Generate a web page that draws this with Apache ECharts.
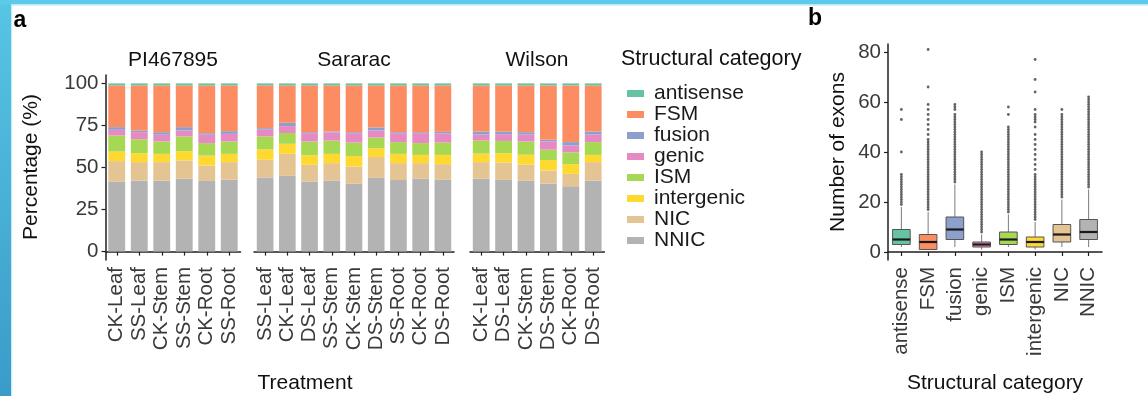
<!DOCTYPE html>
<html>
<head>
<meta charset="utf-8">
<script src="https://cdn.jsdelivr.net/npm/echarts@6/dist/echarts.min.js"></script>
<style>
  html, body { margin: 0; padding: 0; background: #ffffff; }
  #chart { width: 1148px; height: 396px; }
</style>
</head>
<body>
<div id="chart"></div>
<script>
// ---- Structural categories (Set2 palette) ----
const categories = ['antisense', 'FSM', 'fusion', 'genic', 'ISM', 'intergenic', 'NIC', 'NNIC'];
const categoryColors = ['#66C2A5', '#FC8D62', '#8DA0CB', '#E78AC3', '#A6D854', '#FFD92F', '#E5C494', '#B3B3B3'];

// ---- Panel a: isoform composition (%) per genotype and treatment ----
const piTreatments = ['CK-Leaf', 'SS-Leaf', 'CK-Stem', 'SS-Stem', 'CK-Root', 'SS-Root'];
const piAntisense  = [1.2, 1.2, 1.2, 1.2, 1.2, 1.2];
const piFSM        = [24.8, 26.8, 27.8, 24.8, 28.4, 27.2];
const piFusion     = [1.6, 1.0, 1.5, 2.0, 0.9, 1.6];
const piGenic      = [3.4, 4.2, 4.0, 3.5, 5.0, 4.5];
const piISM        = [9.5, 8.3, 7.4, 8.8, 7.4, 7.4];
const piIntergenic = [5.7, 5.3, 4.9, 5.5, 5.9, 4.9];
const piNIC        = [12.3, 10.9, 10.9, 10.9, 9.2, 10.5];
const piNNIC       = [41.5, 42.3, 42.3, 43.3, 42.0, 42.7];

const sararacTreatments = ['SS-Leaf', 'CK-Leaf', 'DS-Leaf', 'SS-Stem', 'CK-Stem', 'DS-Stem', 'SS-Root', 'CK-Root', 'DS-Root'];
const sararacAntisense  = [1.2, 1.2, 1.2, 1.2, 1.2, 1.2, 1.2, 1.2, 1.2];
const sararacFSM        = [25.4, 22.2, 27.8, 27.4, 27.8, 25.0, 27.8, 27.8, 27.6];
const sararacFusion     = [0.9, 2.0, 0.6, 0.6, 0.6, 1.8, 0.6, 0.6, 1.0];
const sararacGenic      = [4.0, 4.1, 5.0, 4.8, 5.6, 4.2, 5.3, 5.9, 5.4];
const sararacISM        = [7.7, 6.4, 8.1, 7.9, 8.0, 6.4, 7.0, 7.0, 7.3];
const sararacIntergenic = [6.2, 6.0, 5.7, 5.5, 6.2, 5.2, 5.5, 4.9, 5.5];
const sararacNIC        = [10.6, 13.1, 9.9, 10.5, 10.3, 12.4, 10.1, 9.3, 9.2];
const sararacNNIC       = [44.0, 45.0, 41.7, 42.1, 40.3, 43.8, 42.5, 43.3, 42.8];

const wilsonTreatments = ['CK-Leaf', 'DS-Leaf', 'CK-Stem', 'DS-Stem', 'CK-Root', 'DS-Root'];
const wilsonAntisense  = [1.2, 1.2, 1.2, 1.2, 1.2, 1.2];
const wilsonFSM        = [27.4, 27.5, 27.8, 32.3, 33.7, 27.4];
const wilsonFusion     = [1.8, 1.5, 1.4, 1.0, 2.0, 1.8];
const wilsonGenic      = [3.6, 4.0, 4.2, 4.9, 4.1, 4.5];
const wilsonISM        = [7.7, 7.3, 7.8, 6.2, 7.0, 7.6];
const wilsonIntergenic = [5.1, 5.5, 5.8, 6.2, 5.8, 4.3];
const wilsonNIC        = [9.9, 10.4, 9.7, 7.7, 7.4, 10.9];
const wilsonNNIC       = [43.3, 42.6, 42.1, 40.5, 38.8, 42.3];

const pctTicks = [0, 25, 50, 75, 100];

// ---- Panel b: number of exons per structural category (box statistics) ----
const exonLowerWhisker = [2, 1, 2, 1, 2, 1, 2, 2];
const exonQ1           = [3, 1, 5, 2, 3, 2, 4, 5];
const exonMedian       = [5, 4, 9, 3, 5, 4, 7, 8];
const exonQ3           = [9, 7, 14, 4, 8, 6, 11, 13];
const exonUpperWhisker = [18, 16, 27, 7, 15, 12, 21, 25];
const exonTicks = [0, 20, 40, 60, 80];

// Outlying transcripts (exon counts beyond the whiskers)
const outAntisense  = [19, 20, 21, 22, 23, 24, 25, 26, 27, 28, 29, 30, 31, 40, 53, 57];
const outFSM        = [17, 18, 19, 20, 21, 22, 23, 24, 25, 26, 27, 28, 29, 30, 31, 32, 33, 34, 35, 36, 37, 38, 39, 40, 41, 42, 43, 44, 45, 47, 49, 51, 53, 55, 57, 59, 66, 81];
const outFusion     = [28, 29, 30, 31, 32, 33, 34, 35, 36, 37, 38, 39, 40, 41, 42, 43, 44, 45, 46, 47, 48, 49, 50, 51, 52, 53, 54, 55, 57, 58, 59];
const outGenic      = [8, 9, 10, 11, 12, 13, 14, 15, 16, 17, 18, 19, 20, 21, 22, 23, 24, 25, 26, 27, 28, 29, 30, 31, 32, 33, 34, 35, 36, 37, 38, 39, 40];
const outISM        = [16, 17, 18, 19, 20, 21, 22, 23, 24, 25, 26, 27, 28, 29, 30, 31, 32, 33, 34, 35, 36, 37, 38, 39, 40, 41, 42, 43, 44, 45, 46, 47, 48, 49, 50, 55, 58];
const outIntergenic = [13, 14, 15, 16, 17, 18, 19, 20, 21, 22, 23, 24, 25, 26, 27, 28, 29, 30, 31, 33, 35, 37, 39, 41, 43, 45, 47, 50, 52, 53, 54, 55, 57, 64, 69, 77];
const outNIC        = [22, 23, 24, 25, 26, 27, 28, 29, 30, 31, 32, 33, 34, 35, 36, 37, 38, 39, 40, 41, 42, 43, 44, 45, 46, 47, 48, 49, 50, 51, 52, 53, 54, 55, 57];
const outNNIC       = [26, 27, 28, 29, 30, 31, 32, 33, 34, 35, 36, 37, 38, 39, 40, 41, 42, 43, 44, 45, 46, 47, 48, 49, 50, 51, 52, 53, 54, 55, 56, 57, 58, 59, 60, 61, 62];

// ---- Assemble ----
const FONT = '"Liberation Sans", Arial, Helvetica, sans-serif';
const AXIS_COLOR = '#1f1f1f';
const TICK_TEXT = '#3a3a3a';

// per-facet stacks, bottom segment first (NNIC) so FSM / antisense end up on top
const facets = [
  { stack: 'pi', values: { antisense: piAntisense, FSM: piFSM, fusion: piFusion, genic: piGenic, ISM: piISM, intergenic: piIntergenic, NIC: piNIC, NNIC: piNNIC } },
  { stack: 'sararac', values: { antisense: sararacAntisense, FSM: sararacFSM, fusion: sararacFusion, genic: sararacGenic, ISM: sararacISM, intergenic: sararacIntergenic, NIC: sararacNIC, NNIC: sararacNNIC } },
  { stack: 'wilson', values: { antisense: wilsonAntisense, FSM: wilsonFSM, fusion: wilsonFusion, genic: wilsonGenic, ISM: wilsonISM, intergenic: wilsonIntergenic, NIC: wilsonNIC, NNIC: wilsonNNIC } }
];
const treatmentLists = [piTreatments, sararacTreatments, wilsonTreatments];

const series = [];
facets.forEach((f, fi) => {
  for (let c = categories.length - 1; c >= 0; c--) {
    const name = categories[c];
    series.push({
      type: 'bar',
      name: name,
      stack: f.stack,
      xAxisIndex: fi,
      yAxisIndex: fi,
      barWidth: '75%',
      itemStyle: { color: categoryColors[c] },
      emphasis: { disabled: true },
      data: f.values[name]
    });
  }
});

// boxes: [index, lower whisker, Q1, median, Q3, upper whisker]
const boxData = categories.map((c, i) => [i, exonLowerWhisker[i], exonQ1[i], exonMedian[i], exonQ3[i], exonUpperWhisker[i]]);

series.push({
  type: 'custom',
  name: 'exonBox',
  xAxisIndex: 3,
  yAxisIndex: 3,
  encode: { x: 0, y: [1, 2, 3, 4, 5] },
  data: boxData,
  renderItem: function (params, api) {
    const i = api.value(0);
    const lo = api.coord([i, api.value(1)]);
    const q1 = api.coord([i, api.value(2)]);
    const md = api.coord([i, api.value(3)]);
    const q3 = api.coord([i, api.value(4)]);
    const hi = api.coord([i, api.value(5)]);
    const half = api.size([1, 0])[0] * 0.33;
    const cx = q1[0];
    const whisker = { stroke: '#7a7a7a', lineWidth: 1 };
    return {
      type: 'group',
      children: [
        { type: 'line', shape: { x1: cx, y1: q3[1], x2: cx, y2: hi[1] }, style: whisker },
        { type: 'line', shape: { x1: cx, y1: q1[1], x2: cx, y2: lo[1] }, style: whisker },
        { type: 'rect', shape: { x: cx - half, y: q3[1], width: half * 2, height: q1[1] - q3[1] },
          style: { fill: categoryColors[params.dataIndex], stroke: '#555555', lineWidth: 1 } },
        { type: 'line', shape: { x1: cx - half, y1: md[1], x2: cx + half, y2: md[1] },
          style: { stroke: '#1a1a1a', lineWidth: 2.2 } }
      ]
    };
  },
  z: 3
});

const outlierLists = [outAntisense, outFSM, outFusion, outGenic, outISM, outIntergenic, outNIC, outNNIC];
const outlierPoints = [];
outlierLists.forEach((arr, i) => arr.forEach(v => outlierPoints.push([i, v])));
series.push({
  type: 'scatter',
  name: 'exonOutliers',
  xAxisIndex: 3,
  yAxisIndex: 3,
  symbol: 'circle',
  symbolSize: 2.8,
  itemStyle: { color: '#3d3d3d' },
  emphasis: { disabled: true },
  data: outlierPoints,
  z: 4
});

// ---- Axes ----
const catAxis = (gridIndex, data) => ({
  type: 'category',
  gridIndex: gridIndex,
  data: data,
  axisLine: { show: true, lineStyle: { color: AXIS_COLOR, width: 1.5 } },
  axisTick: { show: true, alignWithLabel: true, length: 4, lineStyle: { color: AXIS_COLOR, width: 1.2 } },
  axisLabel: { interval: 0, rotate: 90, margin: 7, fontSize: 20.5, fontFamily: FONT, color: TICK_TEXT },
  splitLine: { show: false }
});

const xAxes = [
  catAxis(0, piTreatments),
  catAxis(1, sararacTreatments),
  catAxis(2, wilsonTreatments),
  catAxis(3, categories)
];

const pctAxis = (gridIndex, visible) => ({
  type: 'value',
  gridIndex: gridIndex,
  min: -5,
  max: 105,
  show: visible,
  axisLine: { show: true, lineStyle: { color: AXIS_COLOR, width: 1.5 } },
  axisTick: { show: true, length: 4, customValues: pctTicks, lineStyle: { color: AXIS_COLOR, width: 1.2 } },
  axisLabel: { customValues: pctTicks, margin: 7, fontSize: 20.5, fontFamily: FONT, color: TICK_TEXT },
  splitLine: { show: false }
});

const yAxes = [
  pctAxis(0, true),
  pctAxis(1, false),
  pctAxis(2, false),
  {
    type: 'value',
    gridIndex: 3,
    min: -3.2,
    max: 83.2,
    axisLine: { show: true, lineStyle: { color: AXIS_COLOR, width: 1.5 } },
    axisTick: { show: true, length: 4, customValues: exonTicks, lineStyle: { color: AXIS_COLOR, width: 1.2 } },
    axisLabel: { customValues: exonTicks, margin: 7, fontSize: 20.5, fontFamily: FONT, color: TICK_TEXT },
    splitLine: { show: false }
  }
];

// ---- Free text and frame ----
const txt = (text, x, y, opts) => Object.assign({
  type: 'text',
  x: x,
  y: y,
  silent: true,
  style: Object.assign({
    text: text,
    x: 0,
    y: 0,
    font: '21px ' + FONT,
    fill: '#111111',
    align: 'center',
    verticalAlign: 'middle'
  }, (opts && opts.style) || {})
}, opts && opts.rotation ? { rotation: opts.rotation } : {});

const graphics = [
  { type: 'rect', silent: true, shape: { x: 0, y: 0, width: 11, height: 396 },
    style: { fill: new echarts.graphic.LinearGradient(0, 0, 0, 1, [
      { offset: 0, color: '#58c5e4' }, { offset: 1, color: '#3a9bc8' }]) } },
  { type: 'rect', silent: true, shape: { x: 11, y: 5, width: 1.2, height: 391 }, style: { fill: '#c6ecf7' } },
  { type: 'rect', silent: true, shape: { x: 0, y: 0, width: 1148, height: 4.5 }, style: { fill: '#5ccbea' } },
  { type: 'rect', silent: true, shape: { x: 11, y: 4.5, width: 1137, height: 1.2 }, style: { fill: '#c6ecf7' } },

  txt('a', 20, 21, { style: { font: 'bold 23px ' + FONT, fill: '#000' } }),
  txt('b', 815, 19, { style: { font: 'bold 23px ' + FONT, fill: '#000' } }),

  txt('PI467895', 173, 60),
  txt('Sararac', 354, 60),
  txt('Wilson', 537, 60),

  txt('Structural category', 621, 59, { style: { align: 'left', font: '21.5px ' + FONT } }),

  txt('Percentage (%)', 31, 167, { rotation: Math.PI / 2 }),
  txt('Treatment', 305, 383),

  txt('Number of exons', 838, 152, { rotation: Math.PI / 2 }),
  txt('Structural category', 995, 383)
];

const chart = echarts.init(document.getElementById('chart'), null, { renderer: 'canvas' });
chart.setOption({
  animation: false,
  backgroundColor: '#ffffff',
  grid: [
    { left: 105.5, top: 75, width: 135, height: 185 },
    { left: 254, top: 75, width: 200, height: 185 },
    { left: 470, top: 75, width: 134.4, height: 185 },
    { left: 888, top: 44, width: 214, height: 216 }
  ],
  xAxis: xAxes,
  yAxis: yAxes,
  legend: {
    orient: 'vertical',
    left: 622,
    top: 78,
    data: categories,
    icon: 'rect',
    itemWidth: 17,
    itemHeight: 7,
    itemGap: 0,
    selectedMode: false,
    textStyle: { fontSize: 21, lineHeight: 20, fontFamily: FONT, color: '#1a1a1a', padding: [0, 0, 0, 5] }
  },
  graphic: graphics,
  series: series
});
</script>
</body>
</html>
